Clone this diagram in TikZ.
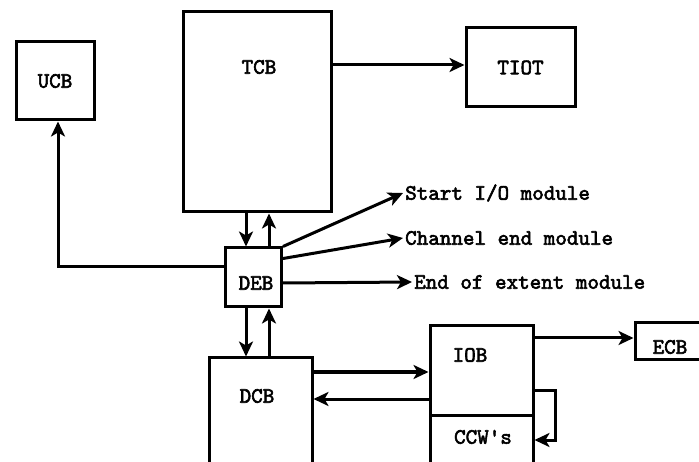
\documentclass[tikz,border=0pt]{standalone}
\usepackage{fontspec}
\newfontfamily\typew{lmmono10-regular.otf}[FakeBold=2.6]
\usetikzlibrary{arrows.meta}

\begin{document}
\begin{tikzpicture}[x=1pt, y=-1pt, every node/.style={font=\typew\fontsize{22}{24}\selectfont}]

\tikzstyle{box}=[draw, line width=3pt, inner sep=0pt]
\tikzstyle{edge}=[draw, line width=3pt, -{Stealth[length=15pt, width=14pt, inset=4pt]}]
\tikzstyle{txt}=[anchor=west, inner sep=2pt]

\useasboundingbox (0,0) rectangle (699,462);
\clip (0,0) rectangle (699,462);

\node [box, minimum width=78pt,  minimum height=78pt]  (ucb)  at ( 55,  81) {UCB};
\node [box, minimum width=148pt, minimum height=200pt] (tcb)  at (257, 112) {};
\node (tcbtext) at (259, 67) {TCB};
\node [box, minimum width=109pt, minimum height=79pt]  (tiot) at (520.5, 67.5) {TIOT};

\node [box, minimum width=56pt,  minimum height=59pt]  (deb)  at (253.5, 277.5) {};
\node (debtext) at (256, 283) {DEB};

\node [box, minimum width=103pt, minimum height=112pt] (dcb)  at (260.5, 414) {};
\node (dcbtext) at (257, 396) {DCB};

\node [box, minimum width=103pt, minimum height=89pt]  (iob)  at (481.5, 370.5) {};
\node (iobtext) at (470, 355) {IOB};
\node [box, minimum width=103pt, minimum height=55pt]  (ccw)  at (481.5, 442.5) {};
\node (ccwtext) at (483, 437) {CCW's};

\node [box, minimum width=68pt,  minimum height=37pt]  (ecb)  at (669, 341.5) {};
\node (ecbtext) at (670, 347) {ECB};

\node [txt] (startio) at (403, 193) {Start I/O module};
\node [txt] (chanend) at (403, 238) {Channel end module};
\node [txt] (extent)  at (412, 282) {End of extent module};

\coordinate (lft) at (246, 0);
\coordinate (rgt) at (269, 0);

\path [edge] ([yshift=47pt]tcb.east) -- ([yshift=2.5pt]tiot.west);

\path [edge] (tcb.south -| lft) -- (deb.north -| lft);
\path [edge] (deb.north -| rgt) -- (tcb.south -| rgt);
\path [edge] (deb.south -| lft) -- (dcb.north -| lft);
\path [edge] (dcb.north -| rgt) -- (deb.south -| rgt);

\path [edge] ([yshift=10.5pt]deb.west) -| ([xshift=3pt]ucb.south);

\path [edge] (deb.north east) -- (startio.west);
\path [edge] ([yshift=-12pt]deb.north east) -- (chanend.west);
\path [edge] ([yshift=-5.5pt]deb.east) -- (extent.west);

\path [edge] ([yshift=42pt]dcb.east) -- ([yshift=-1.5pt]iob.west);
\path [edge] ([yshift=-28.5pt]iob.west) -- ([yshift=15pt]dcb.east);
\path [edge] ([yshift=-19.5pt]iob.east) -- ++(21,0) |- ([yshift=2.5pt]ccw.east);
\path [edge] ([yshift=32.5pt]iob.east) -- ([yshift=3.5pt]ecb.west);

\end{tikzpicture}
\end{document}
